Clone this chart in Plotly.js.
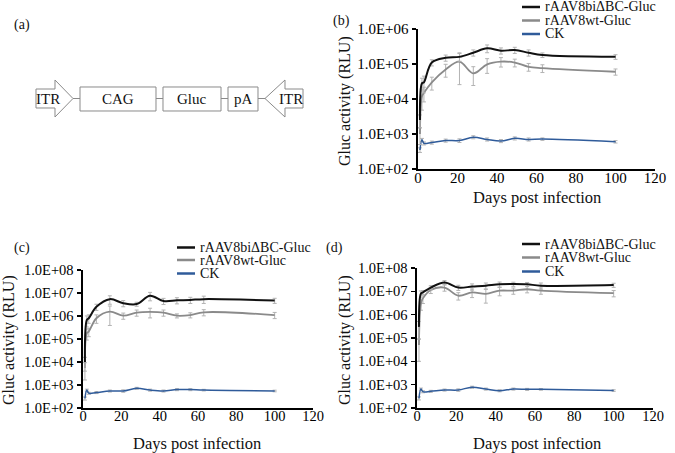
<!DOCTYPE html>
<html>
<head>
<meta charset="utf-8">
<script src="https://cdn.plot.ly/plotly-3.0.1.min.js"></script>
<style>
html, body { margin: 0; padding: 0; background: #fff; }
#chart { width: 675px; height: 453px; }
</style>
</head>
<body>
<div id="chart"></div>
<script>
var W = 675, H = 453;
var FONT = "'Liberation Serif', 'Times New Roman', serif";

// sampling days (days post infection)
var days = [1, 2, 3, 7, 14, 21, 28, 35, 42, 49, 56, 63, 100];

// (b) Gluc activity, RLU
var bBi = [2500, 28000, 30000, 110000, 150000, 160000, 210000, 280000, 240000, 250000, 210000, 180000, 160000];
var bWt = [1000, 12000, 15000, 30000, 70000, 117000, 54000, 98000, 117000, 110000, 83000, 76000, 60000];
var bCk = [350, 680, 540, 570, 650, 650, 810, 700, 630, 750, 700, 715, 600];
// error bars, percent of value
var bBiErr = [40, 40, 50, 20, 20, 25, 20, 25, 20, 20, 20, 15, 15];
var bWtErr = [50, 60, 45, 40, 40, 78, 55, 45, 30, 25, 25, 25, 20];
var bCkErr = [15, 10, 10, 10, 10, 12, 10, 10, 10, 10, 10, 8, 8];

// (c)
var cBi = [10000, 670000, 800000, 2500000, 5400000, 3600000, 3300000, 7600000, 4500000, 4800000, 5000000, 5400000, 4700000];
var cWt = [5500, 180000, 210000, 800000, 1550000, 1030000, 1400000, 1500000, 1400000, 1030000, 1100000, 1450000, 1100000];
var cCk = [260, 600, 440, 470, 550, 550, 720, 600, 550, 630, 630, 600, 550];
var cBiErr = [60, 50, 40, 30, 40, 30, 20, 40, 30, 30, 30, 35, 25];
var cWtErr = [70, 50, 40, 40, 75, 30, 30, 45, 30, 20, 25, 30, 30];
var cCkErr = [15, 10, 10, 10, 10, 12, 10, 10, 10, 10, 10, 8, 8];

// (d)
var dBi = [300000, 8000000, 9000000, 14500000, 24000000, 14500000, 16000000, 17500000, 20000000, 20500000, 20000000, 17500000, 18500000];
var dWt = [50000, 3100000, 5000000, 11500000, 14500000, 6500000, 9000000, 7800000, 10700000, 10700000, 12300000, 10700000, 8300000];
var dCk = [260, 650, 500, 520, 590, 590, 780, 650, 550, 650, 630, 630, 560];
var dBiErr = [70, 30, 20, 20, 20, 25, 30, 30, 25, 20, 20, 30, 20];
var dWtErr = [80, 50, 40, 30, 30, 35, 40, 60, 40, 30, 30, 30, 30];
var dCkErr = [15, 10, 10, 10, 10, 12, 10, 10, 10, 10, 10, 8, 8];

var names = ["rAAV8bi\u0394BC-Gluc", "rAAV8wt-Gluc", "CK"];
var colors = ["#111111", "#8a8a8a", "#2f5b9a"];
var widths = [2, 1.8, 1.5];

var xTicks = [0, 20, 40, 60, 80, 100, 120];
var yVals6 = [1e2, 1e3, 1e4, 1e5, 1e6];
var yText6 = ["1.0E+02", "1.0E+03", "1.0E+04", "1.0E+05", "1.0E+06"];
var yVals8 = [1e2, 1e3, 1e4, 1e5, 1e6, 1e7, 1e8];
var yText8 = ["1.0E+02", "1.0E+03", "1.0E+04", "1.0E+05", "1.0E+06", "1.0E+07", "1.0E+08"];

// schematic of the vector (a)
var parts = ["CAG", "Gluc", "pA"];

function px(x) { return x / W; }
function py(y) { return 1 - y / H; }

function series(vals, pct, k, xa, ya) {
  return {
    x: days, y: vals, type: "scatter", mode: "lines", name: names[k],
    xaxis: xa, yaxis: ya, showlegend: false, hoverinfo: "x+y",
    line: { color: colors[k], width: widths[k], shape: "spline", smoothing: 1 },
    error_y: {
      type: "data",
      array: vals.map(function (v, i) { return v * pct[i] / 100; }),
      color: "#b3b3b3", thickness: 1, width: 2
    }
  };
}

var data = [
  series(bCk, bCkErr, 2, "x", "y"),
  series(bWt, bWtErr, 1, "x", "y"),
  series(bBi, bBiErr, 0, "x", "y"),
  series(cCk, cCkErr, 2, "x2", "y2"),
  series(cWt, cWtErr, 1, "x2", "y2"),
  series(cBi, cBiErr, 0, "x2", "y2"),
  series(dCk, dCkErr, 2, "x3", "y3"),
  series(dWt, dWtErr, 1, "x3", "y3"),
  series(dBi, dBiErr, 0, "x3", "y3")
];

function xAxis(left, right, anchor, fs) {
  return {
    domain: [px(left), px(right)], range: [0, 120], anchor: anchor,
    tickvals: xTicks, ticks: "", ticklabelstandoff: -6, showgrid: false, zeroline: false,
    showline: true, linecolor: "#000", linewidth: 2,
    tickfont: { family: FONT, size: fs, color: "#000" }, fixedrange: true
  };
}

function yAxis(top, bottom, hi, vals, text, anchor, fs) {
  return {
    type: "log", domain: [py(bottom), py(top)], range: [2, hi], anchor: anchor,
    tickvals: vals, ticktext: text, ticks: "outside", ticklen: 4, tickwidth: 1.5,
    tickcolor: "#000", showgrid: false, zeroline: false,
    showline: true, linecolor: "#000", linewidth: 2.5,
    tickfont: { family: FONT, size: fs, color: "#000" }, fixedrange: true
  };
}

var shapes = [];
var annotations = [];

function text(x, y, s, size, opts) {
  var a = {
    x: px(x), y: py(y), xref: "paper", yref: "paper", text: s, showarrow: false,
    font: { family: FONT, size: size, color: "#111" }, xanchor: "center", yanchor: "middle"
  };
  for (var k in opts) a[k] = opts[k];
  annotations.push(a);
}

function seg(x0, y0, x1, y1, color, width) {
  shapes.push({
    type: "line", xref: "paper", yref: "paper",
    x0: px(x0), y0: py(y0), x1: px(x1), y1: py(y1),
    line: { color: color, width: width }
  });
}

function poly(pts) {
  var d = pts.map(function (p, i) {
    return (i ? "L" : "M") + px(p[0]).toFixed(5) + "," + py(p[1]).toFixed(5);
  }).join(" ") + " Z";
  shapes.push({
    type: "path", xref: "paper", yref: "paper", path: d,
    fillcolor: "#fff", line: { color: "#8a8a8a", width: 1 }
  });
}

// legends (drawn by hand, tight spacing as in the figure)
function legend(x, rows) {
  for (var k = 0; k < 3; k++) {
    seg(x, rows[k], x + 18, rows[k], colors[k], 2.5);
    text(x + 21, rows[k], names[k], 14, { xanchor: "left" });
  }
}
legend(522, [7, 20.5, 34]);
legend(177, [247.5, 260, 273.5]);
legend(522, [244, 257.5, 271.5]);

// panel letters
text(22, 25, "(a)", 14);
text(341, 21, "(b)", 14);
text(22, 248, "(c)", 14);
text(334, 248, "(d)", 14);

// axis titles
text(537, 197, "Days post infection", 16.5);
text(197, 443, "Days post infection", 16.5);
text(537, 443, "Days post infection", 16.5);
text(345, 101, "Gluc activity (RLU)", 16, { textangle: -90 });
text(9, 340, "Gluc activity (RLU)", 16, { textangle: -90 });
text(345, 340, "Gluc activity (RLU)", 16, { textangle: -90 });

// (a) construct: ITR - CAG - Gluc - pA - ITR
var midY = 98.5;
poly([[36, 89], [55, 89], [55, 80], [73, midY], [55, 117], [55, 108], [36, 108]]);
poly([[303, 89], [285, 89], [285, 80], [265, midY], [285, 117], [285, 108], [303, 108]]);
var boxes = [[80, 156], [163, 221], [228, 258]];
seg(73, midY, 80, midY, "#8a8a8a", 1);
boxes.forEach(function (b, i) {
  poly([[b[0], 87], [b[1], 87], [b[1], 111], [b[0], 111]]);
  var next = i < boxes.length - 1 ? boxes[i + 1][0] : 265;
  seg(b[1], midY, next, midY, "#8a8a8a", 1);
  text((b[0] + b[1]) / 2, midY, parts[i], 15);
});
text(48, midY, "ITR", 15);
text(291, midY, "ITR", 15);

var layout = {
  width: W, height: H,
  margin: { l: 0, r: 0, t: 0, b: 0 },
  paper_bgcolor: "#fff", plot_bgcolor: "rgba(0,0,0,0)",
  showlegend: false,
  font: { family: FONT, color: "#000" },
  xaxis: xAxis(418, 655, "y", 15),
  yaxis: yAxis(29, 169, 6, yVals6, yText6, "x", 15),
  xaxis2: xAxis(83, 313, "y2", 14.5),
  yaxis2: yAxis(270, 408, 8, yVals8, yText8, "x2", 14.5),
  xaxis3: xAxis(417, 653, "y3", 14.5),
  yaxis3: yAxis(268, 408, 8, yVals8, yText8, "x3", 14.5),
  shapes: shapes,
  annotations: annotations
};

Plotly.newPlot("chart", data, layout, { displayModeBar: false, staticPlot: true });
</script>
</body>
</html>
